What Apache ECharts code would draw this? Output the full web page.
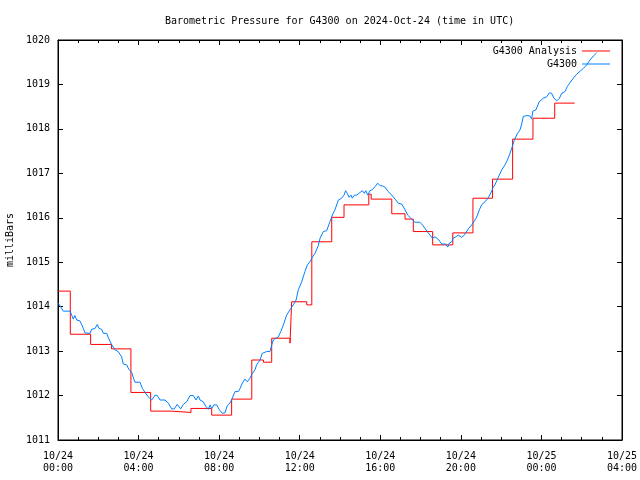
<!DOCTYPE html>
<html>
<head>
<meta charset="utf-8">
<script src="https://cdn.jsdelivr.net/npm/echarts@6/dist/echarts.min.js"></script>
<style>html,body{margin:0;padding:0;background:#fff}#c{width:640px;height:480px}</style>
</head>
<body>
<div id="c"></div>
<script>
// hours since 2024-10-24 00:00 UTC
const xTickLabels = ['10/24\n00:00','10/24\n04:00','10/24\n08:00','10/24\n12:00','10/24\n16:00','10/24\n20:00','10/25\n00:00','10/25\n04:00'];

const redT = [0, 0.61, 1.62, 2.66, 3.62, 4.60, 5.62, 6.60, 7.63, 8.62, 9.62, 10.20, 10.61, 11.52, 11.60, 12.35, 12.60, 13.59, 14.20, 15.43, 15.55, 16.57, 17.23, 17.64, 18.60, 19.60, 20.60, 21.57, 22.57, 23.58, 24.66, 25.65];
const redP = [1014.35, 1013.38, 1013.15, 1013.05, 1012.07, 1011.65, 1011.62, 1011.71, 1011.56, 1011.92, 1012.80, 1012.75, 1013.29, 1013.18, 1014.11, 1014.04, 1015.46, 1016.01, 1016.29, 1016.53, 1016.42, 1016.09, 1015.97, 1015.69, 1015.39, 1015.66, 1016.44, 1016.87, 1017.77, 1018.24, 1018.58, 1018.58];

const blueT = [0.00,0.10,0.26,0.60,0.68,0.76,0.84,0.93,1.09,1.26,
1.34,1.59,1.67,1.84,1.95,2.04,2.17,2.25,2.42,2.50,
2.67,2.83,2.99,3.16,3.24,3.41,3.52,3.66,3.74,3.82,
4.07,4.19,4.32,4.48,4.65,4.73,4.82,4.93,5.06,5.31,
5.48,5.64,5.77,5.92,6.01,6.09,6.22,6.39,6.55,6.72,
6.85,6.97,7.05,7.21,7.35,7.46,7.55,7.63,7.74,7.88,
8.01,8.16,8.29,8.40,8.54,8.65,8.79,8.95,9.04,9.15,
9.28,9.40,9.53,9.65,9.78,9.86,10.03,10.14,10.23,10.36,
10.52,10.61,10.69,10.81,10.94,11.06,11.19,11.35,11.52,11.68,
11.82,11.93,12.10,12.26,12.38,12.51,12.64,12.76,12.92,13.01,
13.17,13.34,13.50,13.62,13.75,13.92,14.08,14.20,14.28,14.36,
14.45,14.55,14.61,14.71,14.83,14.94,15.03,15.11,15.21,15.28,
15.38,15.49,15.60,15.74,15.87,15.99,16.10,16.23,16.40,16.57,
16.73,16.89,17.06,17.23,17.36,17.44,17.56,17.72,17.97,18.09,
18.22,18.33,18.47,18.58,18.72,18.80,18.91,19.05,19.25,19.35,
19.43,19.55,19.62,19.74,19.87,20.04,20.17,20.37,20.54,20.65,
20.79,20.92,21.03,21.20,21.36,21.53,21.61,21.69,21.86,22.03,
22.19,22.31,22.44,22.55,22.65,22.80,22.94,23.02,23.10,23.27,
23.43,23.52,23.57,23.73,23.89,24.09,24.26,24.39,24.51,24.62,
24.76,24.89,25.01,25.17,25.28,25.42,25.58,25.75,25.92,26.08,
26.25,26.41,26.58,26.74];

const blueP = [1014.08,1014.02,1013.90,1013.90,1013.81,1013.72,1013.80,1013.70,1013.68,1013.51,
1013.41,1013.40,1013.49,1013.51,1013.60,1013.51,1013.49,1013.40,1013.40,1013.30,
1013.14,1013.03,1012.99,1012.87,1012.71,1012.69,1012.59,1012.52,1012.40,1012.30,
1012.30,1012.16,1012.07,1011.97,1011.90,1011.94,1012.01,1012.00,1011.90,1011.90,
1011.83,1011.70,1011.70,1011.80,1011.80,1011.70,1011.80,1011.86,1012.00,1012.00,
1011.90,1011.99,1011.90,1011.86,1011.75,1011.69,1011.79,1011.71,1011.79,1011.79,
1011.68,1011.60,1011.61,1011.77,1011.83,1011.94,1012.09,1012.09,1012.16,1012.28,
1012.37,1012.31,1012.39,1012.50,1012.58,1012.69,1012.80,1012.95,1012.91,1012.99,
1012.99,1013.14,1013.25,1013.29,1013.32,1013.44,1013.59,1013.81,1013.93,1014.04,
1014.15,1014.38,1014.56,1014.79,1014.94,1015.01,1015.12,1015.20,1015.37,1015.54,
1015.69,1015.71,1015.91,1016.06,1016.18,1016.40,1016.44,1016.51,1016.61,1016.55,
1016.46,1016.51,1016.44,1016.51,1016.51,1016.55,1016.51,1016.61,1016.55,1016.61,
1016.51,1016.61,1016.63,1016.70,1016.78,1016.72,1016.72,1016.69,1016.59,1016.51,
1016.42,1016.33,1016.31,1016.18,1016.06,1016.10,1015.97,1015.90,1015.90,1015.84,
1015.76,1015.69,1015.61,1015.54,1015.57,1015.61,1015.50,1015.41,1015.41,1015.34,
1015.43,1015.46,1015.54,1015.57,1015.61,1015.56,1015.61,1015.75,1015.84,1015.91,
1016.02,1016.18,1016.29,1016.36,1016.45,1016.60,1016.69,1016.74,1016.91,1017.08,
1017.19,1017.30,1017.45,1017.60,1017.74,1017.89,1017.98,1018.11,1018.28,1018.30,
1018.29,1018.22,1018.40,1018.43,1018.61,1018.69,1018.72,1018.81,1018.80,1018.69,
1018.63,1018.69,1018.80,1018.84,1018.95,1019.04,1019.14,1019.23,1019.30,1019.36,
1019.44,1019.55,1019.64,1019.71];

const FONT = 'DejaVu Sans Mono';
const redData = redT.map((t, i) => [t, redP[i]]);
const blueData = blueT.map((t, i) => [t, blueP[i]]);

const chart = echarts.init(document.getElementById('c'), null, {renderer: 'canvas'});

function xAxisCfg(pos, showLabels) {
  return {
    type: 'value', position: pos, min: 0, max: 28, interval: 4,
    axisLine: {show: true, onZero: false, lineStyle: {color: '#000', width: 1}},
    axisTick: {show: true, inside: true, length: 5, lineStyle: {color: '#000'}},
    minorTick: {show: true, splitNumber: 4, length: 3, lineStyle: {color: '#000'}},
    splitLine: {show: false}, minorSplitLine: {show: false},
    axisLabel: {
      show: showLabels, margin: 10, color: '#000', fontFamily: FONT, fontSize: 10, lineHeight: 12,
      formatter: v => xTickLabels[Math.round(v / 4)] || ''
    }
  };
}
function yAxisCfg(pos, showLabels) {
  const cfg = {
    type: 'value', position: pos, min: 1011, max: 1020, interval: 1,
    axisLine: {show: true, onZero: false, lineStyle: {color: '#000', width: 1}},
    axisTick: {show: true, inside: true, length: 5, lineStyle: {color: '#000'}},
    splitLine: {show: false},
    axisLabel: {show: showLabels, margin: 8, color: '#000', fontFamily: FONT, fontSize: 10,
      formatter: v => String(Math.round(v))}
  };
  if (showLabels) {
    cfg.name = 'milliBars';
    cfg.nameLocation = 'middle';
    cfg.nameRotate = 90;
    cfg.nameGap = 40;
    cfg.nameTextStyle = {color: '#000', fontFamily: FONT, fontSize: 10};
  }
  return cfg;
}

chart.setOption({
  animation: false,
  backgroundColor: '#fff',
  title: {
    text: 'Barometric Pressure for G4300 on 2024-Oct-24 (time in UTC)',
    left: 160, top: 11,
    textStyle: {color: '#000', fontFamily: FONT, fontSize: 10, fontWeight: 'normal'}
  },
  legend: {
    data: ['G4300 Analysis', 'G4300'],
    orient: 'vertical', align: 'right', right: 25, top: 40,
    icon: 'rect', itemWidth: 28, itemHeight: 1, itemGap: 1,
    textStyle: {color: '#000', fontFamily: FONT, fontSize: 10, lineHeight: 12},
    selectedMode: false
  },
  grid: {left: 58, right: 18, top: 40, bottom: 40, containLabel: false, outerBoundsMode: 'none',
         show: true, borderColor: '#000', borderWidth: 1, backgroundColor: 'transparent'},
  xAxis: [xAxisCfg('bottom', true), xAxisCfg('top', false)],
  yAxis: [yAxisCfg('left', true), yAxisCfg('right', false)],
  series: [
    {name: 'G4300 Analysis', type: 'line', data: redData, step: 'end', symbol: 'none', showSymbol: false,
     lineStyle: {color: '#ff0000', width: 1}, itemStyle: {color: '#ff0000'}, xAxisIndex: 0, yAxisIndex: 0},
    {name: 'G4300', type: 'line', data: blueData, symbol: 'none', showSymbol: false,
     lineStyle: {color: '#0080ff', width: 1}, itemStyle: {color: '#0080ff'}, xAxisIndex: 0, yAxisIndex: 0}
  ]
});
</script>
</body>
</html>
